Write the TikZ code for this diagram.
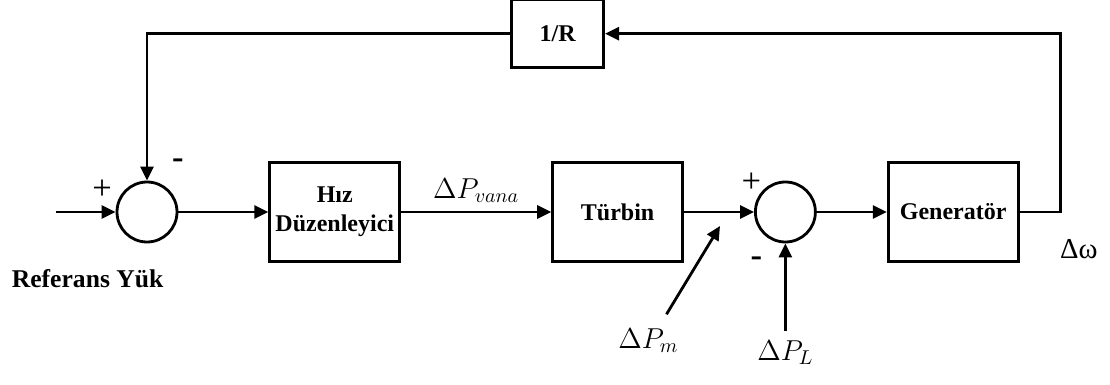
\documentclass[tikz,border=0pt,12pt]{standalone}
\usepackage{fontspec}
\setmainfont{Liberation Serif}
\usepackage{tikz}
\usetikzlibrary{arrows.meta,positioning}

\begin{document}
\begin{tikzpicture}[x=0.5pt, y=-0.5pt, line width=1.4pt,
    >={Triangle[length=7pt,width=6.5pt]},
    block/.style={rectangle, draw=black, line width=1.4pt, minimum width=65pt,
      minimum height=49.5pt, font=\bfseries, align=center, inner sep=1pt},
    sum/.style={circle, draw=black, line width=1.4pt, minimum size=30pt, inner sep=0pt},
    sign/.style={inner sep=0pt, font=\Large},
    lbl/.style={font=\large}]

  \useasboundingbox (0,0) rectangle (1110,385);

  % Define nodes
  \node[sum]                       (S1) at (147,212) {};
  \node[block, right=45pt of S1]   (hiz) {Hız\\Düzenleyici};
  \node[block, right=75pt of hiz]  (turb) {Türbin};
  \node[sum, right=35pt of turb]   (S2) {};
  \node[block, right=35pt of S2]   (gen) {Generatör};
  \node[block, minimum width=46pt, minimum height=34pt,
        above=46pt of turb, xshift=-30pt] (R) {1/R};

  % signs at the summing points
  \node[sign, xshift=-22.5pt, yshift=11pt] (p1) at (S1) {+};
  \node[sign, xshift=15.5pt, yshift=24pt, font=\Large\bfseries] (m1) at (S1) {-};
  \node[sign, xshift=-17pt, yshift=14.5pt] (p2) at (S2) {+};
  \node[sign, xshift=-14.5pt, yshift=-25pt, font=\Large\bfseries] (m2) at (S2) {-};

  % free ends
  \coordinate[left=30pt of S1]   (in);
  \coordinate[right=20.5pt of gen] (out);
  \coordinate[below left=7pt and 17pt of S2.west] (pm);

  % labels
  \node[below=24pt of in, xshift=16pt, font=\fontsize{12.8}{15}\selectfont\bfseries] (ref) {Referans Yük};
  \node[lbl, below=38pt of S2, xshift=-68.5pt] (dPm) {$\Delta P_m$};
  \node[lbl, below=44pt of S2]                 (dPL) {$\Delta P_L$};
  \node[lbl, below right=11pt and 0pt of out, xshift=-3pt, inner sep=2pt] (dw) {Δω};

  % Connections
  \draw [->] (in) -- (S1);
  \draw [->] (S1) -- (hiz);
  \draw [->] (hiz) -- node[lbl, above] {$\Delta P_{vana}$} (turb);
  \draw [->] (turb) -- (S2);
  \draw [->] (S2) -- (gen);
  \draw [->] (gen) -- (out) |- (R);
  \draw [->] (R) -| (S1);
  \draw [->, shorten <=3pt] (dPm.55) -- (pm);
  \draw [->] (dPL) -- (S2);

\end{tikzpicture}
\end{document}
